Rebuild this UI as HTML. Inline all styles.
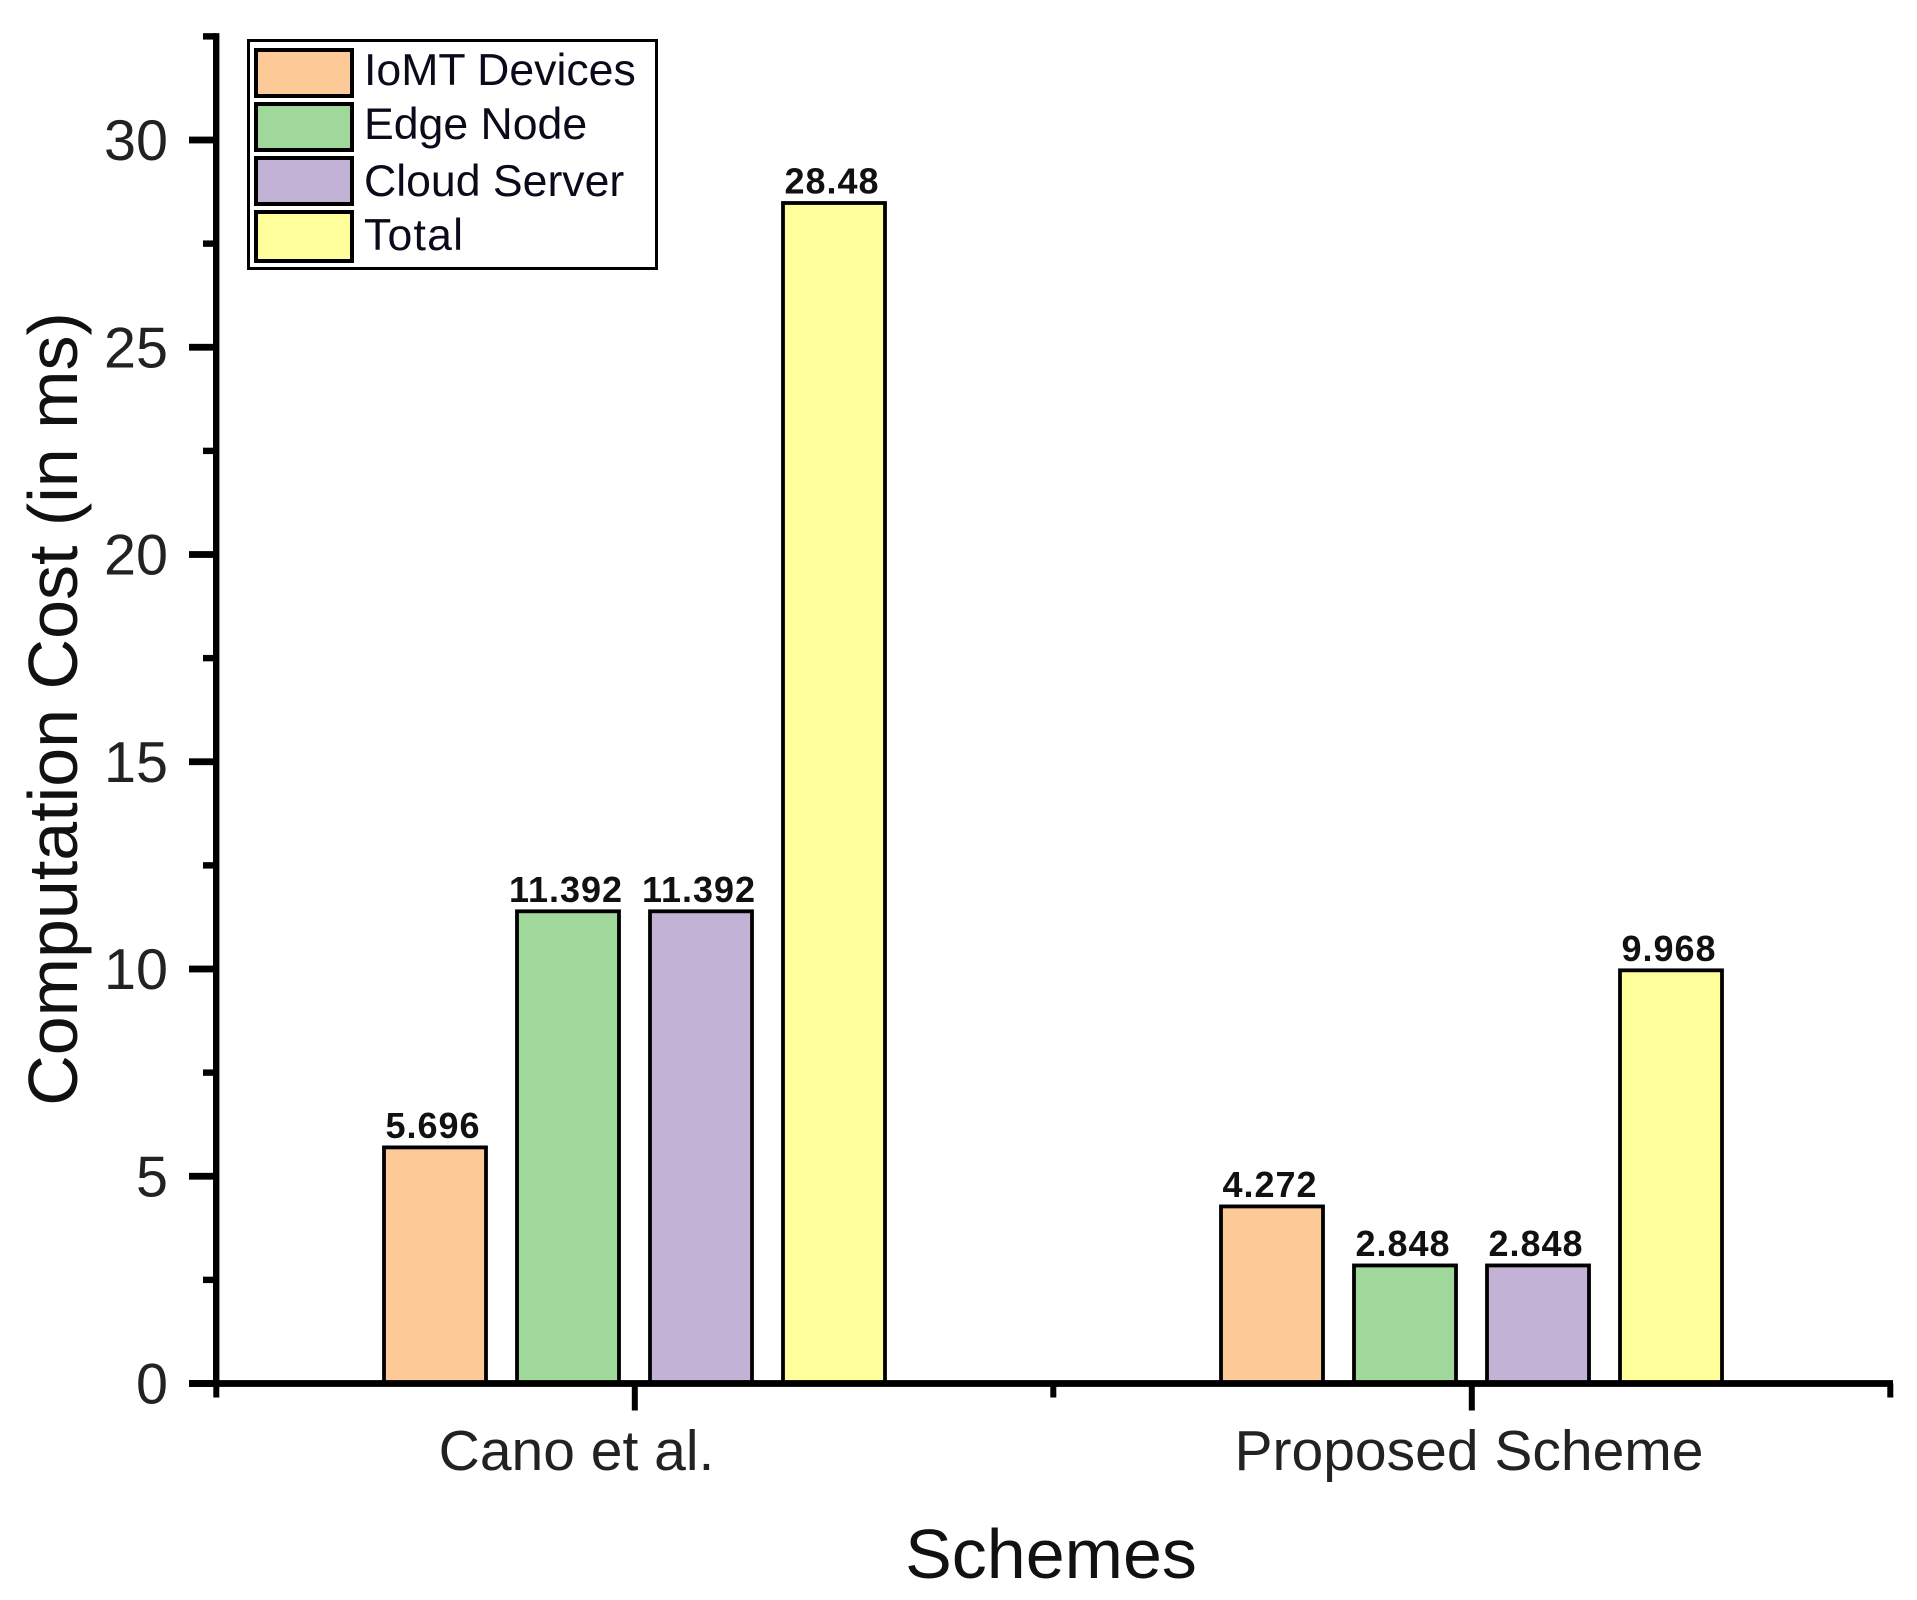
<!DOCTYPE html>
<html lang="en">
<head>
<meta charset="utf-8">
<title>Computation Cost by Scheme</title>
<style>
  html, body { margin: 0; padding: 0; background: #fff; }
  svg { display: block; }
  text { font-family: "Liberation Sans", Arial, sans-serif; }
</style>
</head>
<body>
<svg id="chart" xmlns="http://www.w3.org/2000/svg" width="1917" height="1600" viewBox="0 0 1917 1600">
  <rect x="0" y="0" width="1917" height="1600" fill="#ffffff"/>
  <g id="bars"></g>
  <g id="axes"></g>
  <text transform="translate(77 709) rotate(-90)" text-anchor="middle" font-size="70" fill="#111">Computation Cost (in ms)</text>
  <text x="1051" y="1578" text-anchor="middle" font-size="70" fill="#111">Schemes</text>
  <g>
    <rect x="248.5" y="40.5" width="408" height="228" fill="#fff" stroke="#000" stroke-width="3"/>
    <g>
      <rect x="256" y="50" width="96" height="46" fill="#FDC997" stroke="#000" stroke-width="4"/>
      <text x="364" y="85" font-size="44.6" fill="#0a0a1a">IoMT Devices</text>
    </g>
    <g>
      <rect x="256" y="104" width="96" height="46" fill="#A0D89C" stroke="#000" stroke-width="4"/>
      <text x="364" y="139" font-size="44.6" fill="#0a0a1a">Edge Node</text>
    </g>
    <g>
      <rect x="256" y="158" width="96" height="46" fill="#C2B2D6" stroke="#000" stroke-width="4"/>
      <text x="364" y="196" font-size="44.6" fill="#0a0a1a">Cloud Server</text>
    </g>
    <g>
      <rect x="256" y="212" width="96" height="49" fill="#FEFE9B" stroke="#000" stroke-width="4"/>
      <text x="364" y="250" font-size="44.6" letter-spacing="1.2" fill="#0a0a1a">Total</text>
    </g>
  </g>
</svg>
<script>
const categories = ["Cano et al.", "Proposed Scheme"];
const seriesNames = ["IoMT Devices", "Edge Node", "Cloud Server", "Total"];
const iomtValues = [5.696, 4.272];
const edgeValues = [11.392, 2.848];
const cloudValues = [11.392, 2.848];
const totalValues = [28.48, 9.968];
const yMajorTicks = [0, 5, 10, 15, 20, 25, 30];
const yMinorTicks = [2.5, 7.5, 12.5, 17.5, 22.5, 27.5, 32.5];

const seriesValues = [iomtValues, edgeValues, cloudValues, totalValues];
const seriesColors = ["#FDC997", "#A0D89C", "#C2B2D6", "#FEFE9B"];
const NS = "http://www.w3.org/2000/svg";
const plot = { left: 216, right: 1891, zeroY: 1383.5, unit: 41.45, firstCenter: 634.5, catStep: 837, barStep: 133, barWidth: 102 };

function yScale(v) { return plot.zeroY - v * plot.unit; }
function xScale(catIndex) { return plot.firstCenter + catIndex * plot.catStep; }
function slug(s) { return s.toLowerCase().replace(/[^a-z0-9]+/g, "-").replace(/-+$/, ""); }
function make(tag, parent, attrs) {
  const el = document.createElementNS(NS, tag);
  for (const k in attrs) el.setAttribute(k, attrs[k]);
  parent.appendChild(el);
  return el;
}

const barsGroup = document.getElementById("bars");
const axesGroup = document.getElementById("axes");

seriesValues.forEach(function (values, s) {
  values.forEach(function (v, c) {
    const cx = xScale(c) + (s - 1.5) * plot.barStep;
    const top = yScale(v);
    const bar = make("rect", barsGroup, { x: cx - plot.barWidth / 2, y: top, width: plot.barWidth, height: plot.zeroY - top, fill: seriesColors[s], stroke: "#000", "stroke-width": 3.8 });
    
    
    const label = make("text", barsGroup, { x: cx - 2, y: top - 9.5, "text-anchor": "middle", "font-size": 36, "font-weight": "bold", "letter-spacing": 1, fill: "#111" });
    label.textContent = String(v);
    
    
  });
});

yMajorTicks.forEach(function (t) {
  const y = yScale(t);
  const tick = make("rect", axesGroup, { x: 189, y: y - 3.4, width: 27, height: 6.8, fill: "#000" });
  
  
  const label = make("text", axesGroup, { x: 168, y: y + 20, "text-anchor": "end", "font-size": 57.5, fill: "#222" });
  label.textContent = String(t);
  
  
});

yMinorTicks.forEach(function (t) {
  const tick = make("rect", axesGroup, { x: 203, y: yScale(t) - 3.2, width: 13, height: 6.4, fill: "#000" });
  
  
});

const yAxisLine = make("rect", axesGroup, { x: 213, y: yScale(32.5) - 3.2, width: 6.4, height: plot.zeroY - yScale(32.5) + 3.2, fill: "#000" });



const xAxisLine = make("rect", axesGroup, { x: 189, y: plot.zeroY - 3.4, width: plot.right - 189 + 2, height: 6.8, fill: "#000" });



categories.forEach(function (name, c) {
  const x = xScale(c);
  const tick = make("rect", axesGroup, { x: x - 2.7, y: plot.zeroY, width: 6, height: 27, fill: "#000" });
  
  
  const label = make("text", axesGroup, { x: x - (c === 0 ? 58 : 2.5), y: 1470, "text-anchor": "middle", "font-size": 57, fill: "#222" });
  label.textContent = name;
  
  
});

[xScale(0) - plot.catStep / 2, xScale(0) + plot.catStep / 2, xScale(1) + plot.catStep / 2].forEach(function (x, i) {
  const tick = make("rect", axesGroup, { x: x - 2.7, y: plot.zeroY, width: 6, height: 14, fill: "#000" });
  
  
});
</script>
</body>
</html>
